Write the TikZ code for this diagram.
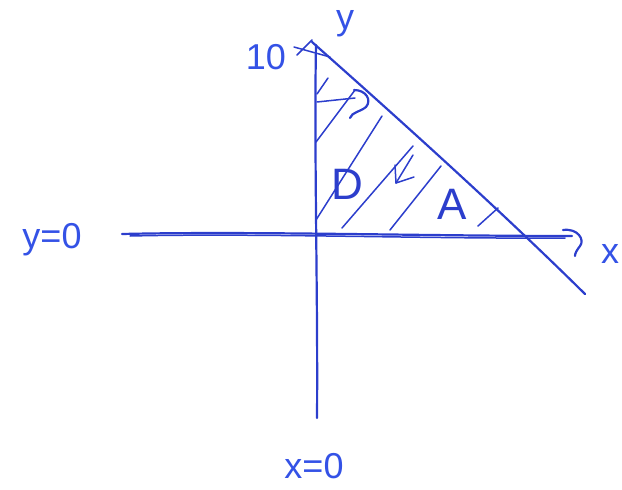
\documentclass[tikz,border=0pt]{standalone}
\usepackage{fontspec}
\setmainfont{Liberation Sans}
\definecolor{pen}{RGB}{44,62,204}
\definecolor{ink}{RGB}{52,82,230}
\begin{document}
\begin{tikzpicture}[x=1pt,y=-1pt,
  stroke/.style={pen,line width=2.2pt,line cap=round,line join=round},
  thin stroke/.style={pen,line width=1.5pt,line cap=round},
  lab/.style={ink,font=\fontsize{36}{36}\selectfont,inner sep=0pt},
  biglab/.style={pen,font=\fontsize{44}{44}\selectfont,inner sep=0pt}]
\useasboundingbox (0,0) rectangle (622,490);
% axes
\draw[stroke] (122,234) .. controls (250,231) and (420,236) .. (572,236);
\draw[thin stroke] (130,236) .. controls (260,233) and (430,239) .. (565,238);
\draw[stroke] (316,45) .. controls (314,150) and (318,300) .. (317,418);
% hook at end of x-axis
\draw[stroke] (563,230) .. controls (578,228) and (585,240) .. (580,246) .. controls (577,250) and (575,253) .. (575,256);
% cross at top of y-axis
\draw[thin stroke] (294,47) -- (330,57);
\draw[thin stroke] (297,55) -- (312,40);
% hypotenuse
\draw[stroke] (312,42) .. controls (400,120) and (500,210) .. (585,294);
% hatch lines
\draw[thin stroke] (317,94) -- (328,78);
\draw[thin stroke] (316,142) -- (355,90);
\draw[thin stroke] (316,220) -- (382,116);
\draw[thin stroke] (342,228) -- (413,146);
\draw[thin stroke] (390,230) -- (441,166);
\draw[thin stroke] (478,226) -- (498,208);
% small mark near top
\draw[thin stroke] (317,102) -- (355,98);
\draw[stroke] (354,90) .. controls (366,90) and (372,100) .. (366,107) .. controls (360,112) and (352,112) .. (350,118);
% arrow in region
\draw[thin stroke] (413,155) -- (396,183);
\draw[thin stroke] (396,183) -- (395,165);
\draw[thin stroke] (396,183) -- (414,177);
% labels
\node[lab] (ten) at (266,57) {10};
\node[lab] (ylab) at (345,24) {y};
\node[lab] (yzero) at (52,240) {y=0};
\node[lab] (xlab) at (610,254) {x};
\node[lab] (xzero) at (314,466) {x=0};
\node[biglab] (dlab) at (347,184) {D};
\node[biglab] (alab) at (452,204) {A};
\end{tikzpicture}
\end{document}
